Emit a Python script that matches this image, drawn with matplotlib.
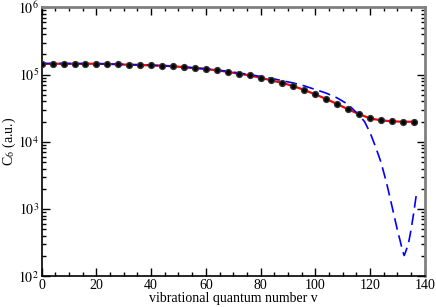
import matplotlib
matplotlib.use("Agg")
import matplotlib.pyplot as plt
from matplotlib.ticker import LogLocator, MultipleLocator, NullFormatter, FixedLocator
import numpy as np

# Data
v_pts = [0, 4, 8, 12, 16, 20, 24, 28, 32, 36, 40, 44, 48, 52, 56, 60, 64, 68,
         72, 76, 80, 84, 88, 92, 96, 100, 104, 108, 112, 116, 120, 124, 128, 132, 136]
c6_pts = [1.45e5, 1.45e5, 1.45e5, 1.45e5, 1.45e5, 1.45e5, 1.44e5, 1.42e5, 1.40e5,
          1.39e5, 1.37e5, 1.36e5, 1.33e5, 1.29e5, 1.25e5, 1.21e5, 1.16e5, 1.10e5,
          1.03e5, 9.75e4, 8.97e4, 8.2e4, 7.5e4, 6.75e4, 5.9e4, 5.08e4, 4.33e4,
          3.65e4, 3.04e4, 2.59e4, 2.23e4, 2.09e4, 2.02e4, 1.99e4, 1.99e4]

v_fit = [0, 10, 20, 30, 40, 50, 60, 68, 76, 84, 88, 92, 96, 100, 104, 108, 112,
         116, 118, 120, 122, 124, 126, 128, 130, 131, 132, 132.5, 133, 134, 135, 136, 137]
c6_fit = [1.46e5, 1.46e5, 1.45e5, 1.42e5, 1.38e5, 1.31e5, 1.22e5, 1.12e5, 1.0e5,
          8.8e4, 8.1e4, 7.5e4, 6.8e4, 6.0e4, 5.3e4, 4.5e4, 3.6e4, 2.5e4, 2.0e4,
          1.38e4, 8.5e3, 5.0e3, 2.5e3, 1.12e3, 490, 340, 230, 204, 230, 300, 490,
          890, 1.7e3]

x_ticks = [0, 20, 40, 60, 80, 100, 120, 140]
y_ticks = [1e2, 1e3, 1e4, 1e5, 1e6]

plt.rcParams['font.family'] = ['Liberation Serif', 'DejaVu Serif']
plt.rcParams['mathtext.fontset'] = 'stix'

fig = plt.figure(figsize=(4.36, 3.07), dpi=100)
ax = fig.add_axes([0.0956, 0.1, 0.8785, 0.876])

ax.plot(v_pts, c6_pts, color='red', lw=1.6, zorder=2)
ax.plot(v_fit, c6_fit, color='blue', lw=1.2, linestyle=(0, (7, 3.5)), zorder=3)
ax.plot(v_pts, c6_pts, linestyle='none', marker='o', color='black',
        markersize=4.2, markeredgecolor='#333333', zorder=4)

ax.set_yscale('log')
ax.set_xlim(0, 140)
ax.set_ylim(1e2, 1e6)

ax.xaxis.set_major_locator(FixedLocator(x_ticks))
ax.xaxis.set_minor_locator(MultipleLocator(5))
ax.yaxis.set_major_locator(FixedLocator(y_ticks))
ax.yaxis.set_minor_locator(LogLocator(base=10, subs=np.arange(2, 10)))
ax.yaxis.set_minor_formatter(NullFormatter())
ax.set_yticklabels([r'$10^{%d}$' % int(np.log10(t)) for t in y_ticks])
ax.set_xticklabels([str(t) for t in x_ticks])

ax.tick_params(which='both', direction='in', top=True, right=True, labelsize=10,
               pad=2)
ax.tick_params(which='major', length=6, width=1)
ax.tick_params(which='minor', length=3, width=1)

for s in ['left', 'bottom']:
    ax.spines[s].set_color('black')
    ax.spines[s].set_linewidth(1.2)
for s in ['top', 'right']:
    ax.spines[s].set_color('#808080')
    ax.spines[s].set_linewidth(2)

ax.set_xlabel('vibrational quantum number v', fontsize=10, labelpad=0)
ax.set_ylabel(r'C$_6$ (a.u.)', fontsize=10)
ax.yaxis.set_label_coords(-0.062, 0.5)

fig.savefig('out.png', dpi=100)
